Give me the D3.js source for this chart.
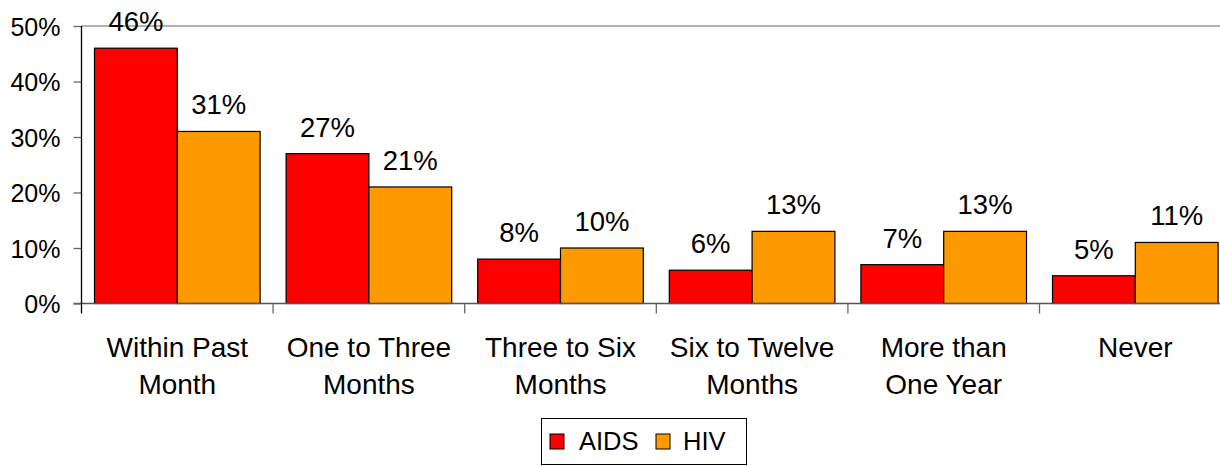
<!DOCTYPE html>
<html>
<head>
<meta charset="utf-8">
<script src="https://cdn.jsdelivr.net/npm/d3@7"></script>
<style>
  html, body { margin: 0; padding: 0; background: #fff; overflow: hidden; }
  svg { display: block; font-family: "Liberation Sans", Arial, sans-serif; }
</style>
</head>
<body>
<svg id="chart" width="1220" height="466"></svg>
<script>
const categories = [
  ["Within Past", "Month"],
  ["One to Three", "Months"],
  ["Three to Six", "Months"],
  ["Six to Twelve", "Months"],
  ["More than", "One Year"],
  ["Never"]
];
const seriesNames = ["AIDS", "HIV"];
const aidsValues = [0.46, 0.27, 0.08, 0.06, 0.07, 0.05];
const hivValues  = [0.31, 0.21, 0.10, 0.13, 0.13, 0.11];
const yTicks = [0, 0.1, 0.2, 0.3, 0.4, 0.5];
const colors = ["#FF0000", "#FF9900"];

(function () {
const svg = d3.select("#chart");
const plotLeft = 81.5, plotTop = 26, plotBottom = 303.5;
const band = 191.6;
const catKeys = categories.map((c, i) => i);

const x = d3.scaleBand().domain(catKeys).range([plotLeft, plotLeft + band * categories.length]).padding(0);
const xs = d3.scaleBand().domain(seriesNames).range([13, band - 13]).padding(0);
const y = d3.scaleLinear().domain([0, 0.5]).range([plotBottom, plotTop]);

const fmt = d3.format(".0%");

// top gridline at 50%
svg.append("line")
  .attr("x1", plotLeft).attr("x2", 1220)
  .attr("y1", y(0.5)).attr("y2", y(0.5))
  .attr("stroke", "#999").attr("stroke-width", 1.5);

// bars
const data = catKeys.map(i => ({ i, vals: [aidsValues[i], hivValues[i]] }));
const g = svg.append("g");
data.forEach(d => {
  d.vals.forEach((v, k) => {
    const bx = x(d.i) + xs(seriesNames[k]);
    g.append("rect")
      .attr("x", bx).attr("y", y(v))
      .attr("width", xs.bandwidth()).attr("height", y(0) - y(v))
      .attr("fill", colors[k]).attr("stroke", "#000").attr("stroke-width", 1.2);
    g.append("text")
      .attr("x", bx + xs.bandwidth() / 2).attr("y", y(v) - 17)
      .attr("text-anchor", "middle").attr("font-size", 27.5).attr("fill", "#000")
      .text(fmt(v));
  });
});

// x axis line
svg.append("line")
  .attr("x1", plotLeft - 8).attr("x2", 1220)
  .attr("y1", plotBottom).attr("y2", plotBottom)
  .attr("stroke", "#555").attr("stroke-width", 1.3);

// category ticks
catKeys.forEach(i => {
  if (i === 0) return;
  svg.append("line")
    .attr("x1", x(i)).attr("x2", x(i))
    .attr("y1", plotBottom).attr("y2", plotBottom + 10)
    .attr("stroke", "#666").attr("stroke-width", 1.3);
});

// y axis
const yAxis = d3.axisLeft(y).tickValues(yTicks).tickFormat(fmt).tickSize(8).tickPadding(13);
const ya = svg.append("g").attr("transform", `translate(${plotLeft},0)`).call(yAxis);
ya.select(".domain").remove();
ya.selectAll(".tick line").attr("stroke", "#666").attr("stroke-width", 1.3);
ya.selectAll(".tick text").attr("font-size", 25).attr("fill", "#000")
  .attr("font-family", "'Liberation Sans', Arial, sans-serif").attr("dy", "0.36em");
svg.append("line")
  .attr("x1", plotLeft).attr("x2", plotLeft)
  .attr("y1", plotTop).attr("y2", plotBottom + 10)
  .attr("stroke", "#000").attr("stroke-width", 1.3);

// category labels
catKeys.forEach(i => {
  const t = svg.append("text")
    .attr("text-anchor", "middle").attr("font-size", 28).attr("fill", "#000");
  categories[i].forEach((line, li) => {
    t.append("tspan")
      .attr("x", x(i) + band / 2)
      .attr("y", 357 + li * 37)
      .text(line);
  });
});

// legend
const lg = svg.append("g");
lg.append("rect").attr("x", 541.5).attr("y", 418.5).attr("width", 205).attr("height", 46)
  .attr("fill", "#fff").attr("stroke", "#000").attr("stroke-width", 1);
const legendItems = [
  { name: seriesNames[0], color: colors[0], sx: 550, tx: 579 },
  { name: seriesNames[1], color: colors[1], sx: 656, tx: 683 }
];
legendItems.forEach(it => {
  lg.append("rect").attr("x", it.sx).attr("y", 434).attr("width", 14).attr("height", 15)
    .attr("fill", it.color).attr("stroke", "#000").attr("stroke-width", 1);
  lg.append("text").attr("x", it.tx).attr("y", 450).attr("font-size", 25.5).attr("fill", "#000")
    .text(it.name);
});
})();
</script>
</body>
</html>
